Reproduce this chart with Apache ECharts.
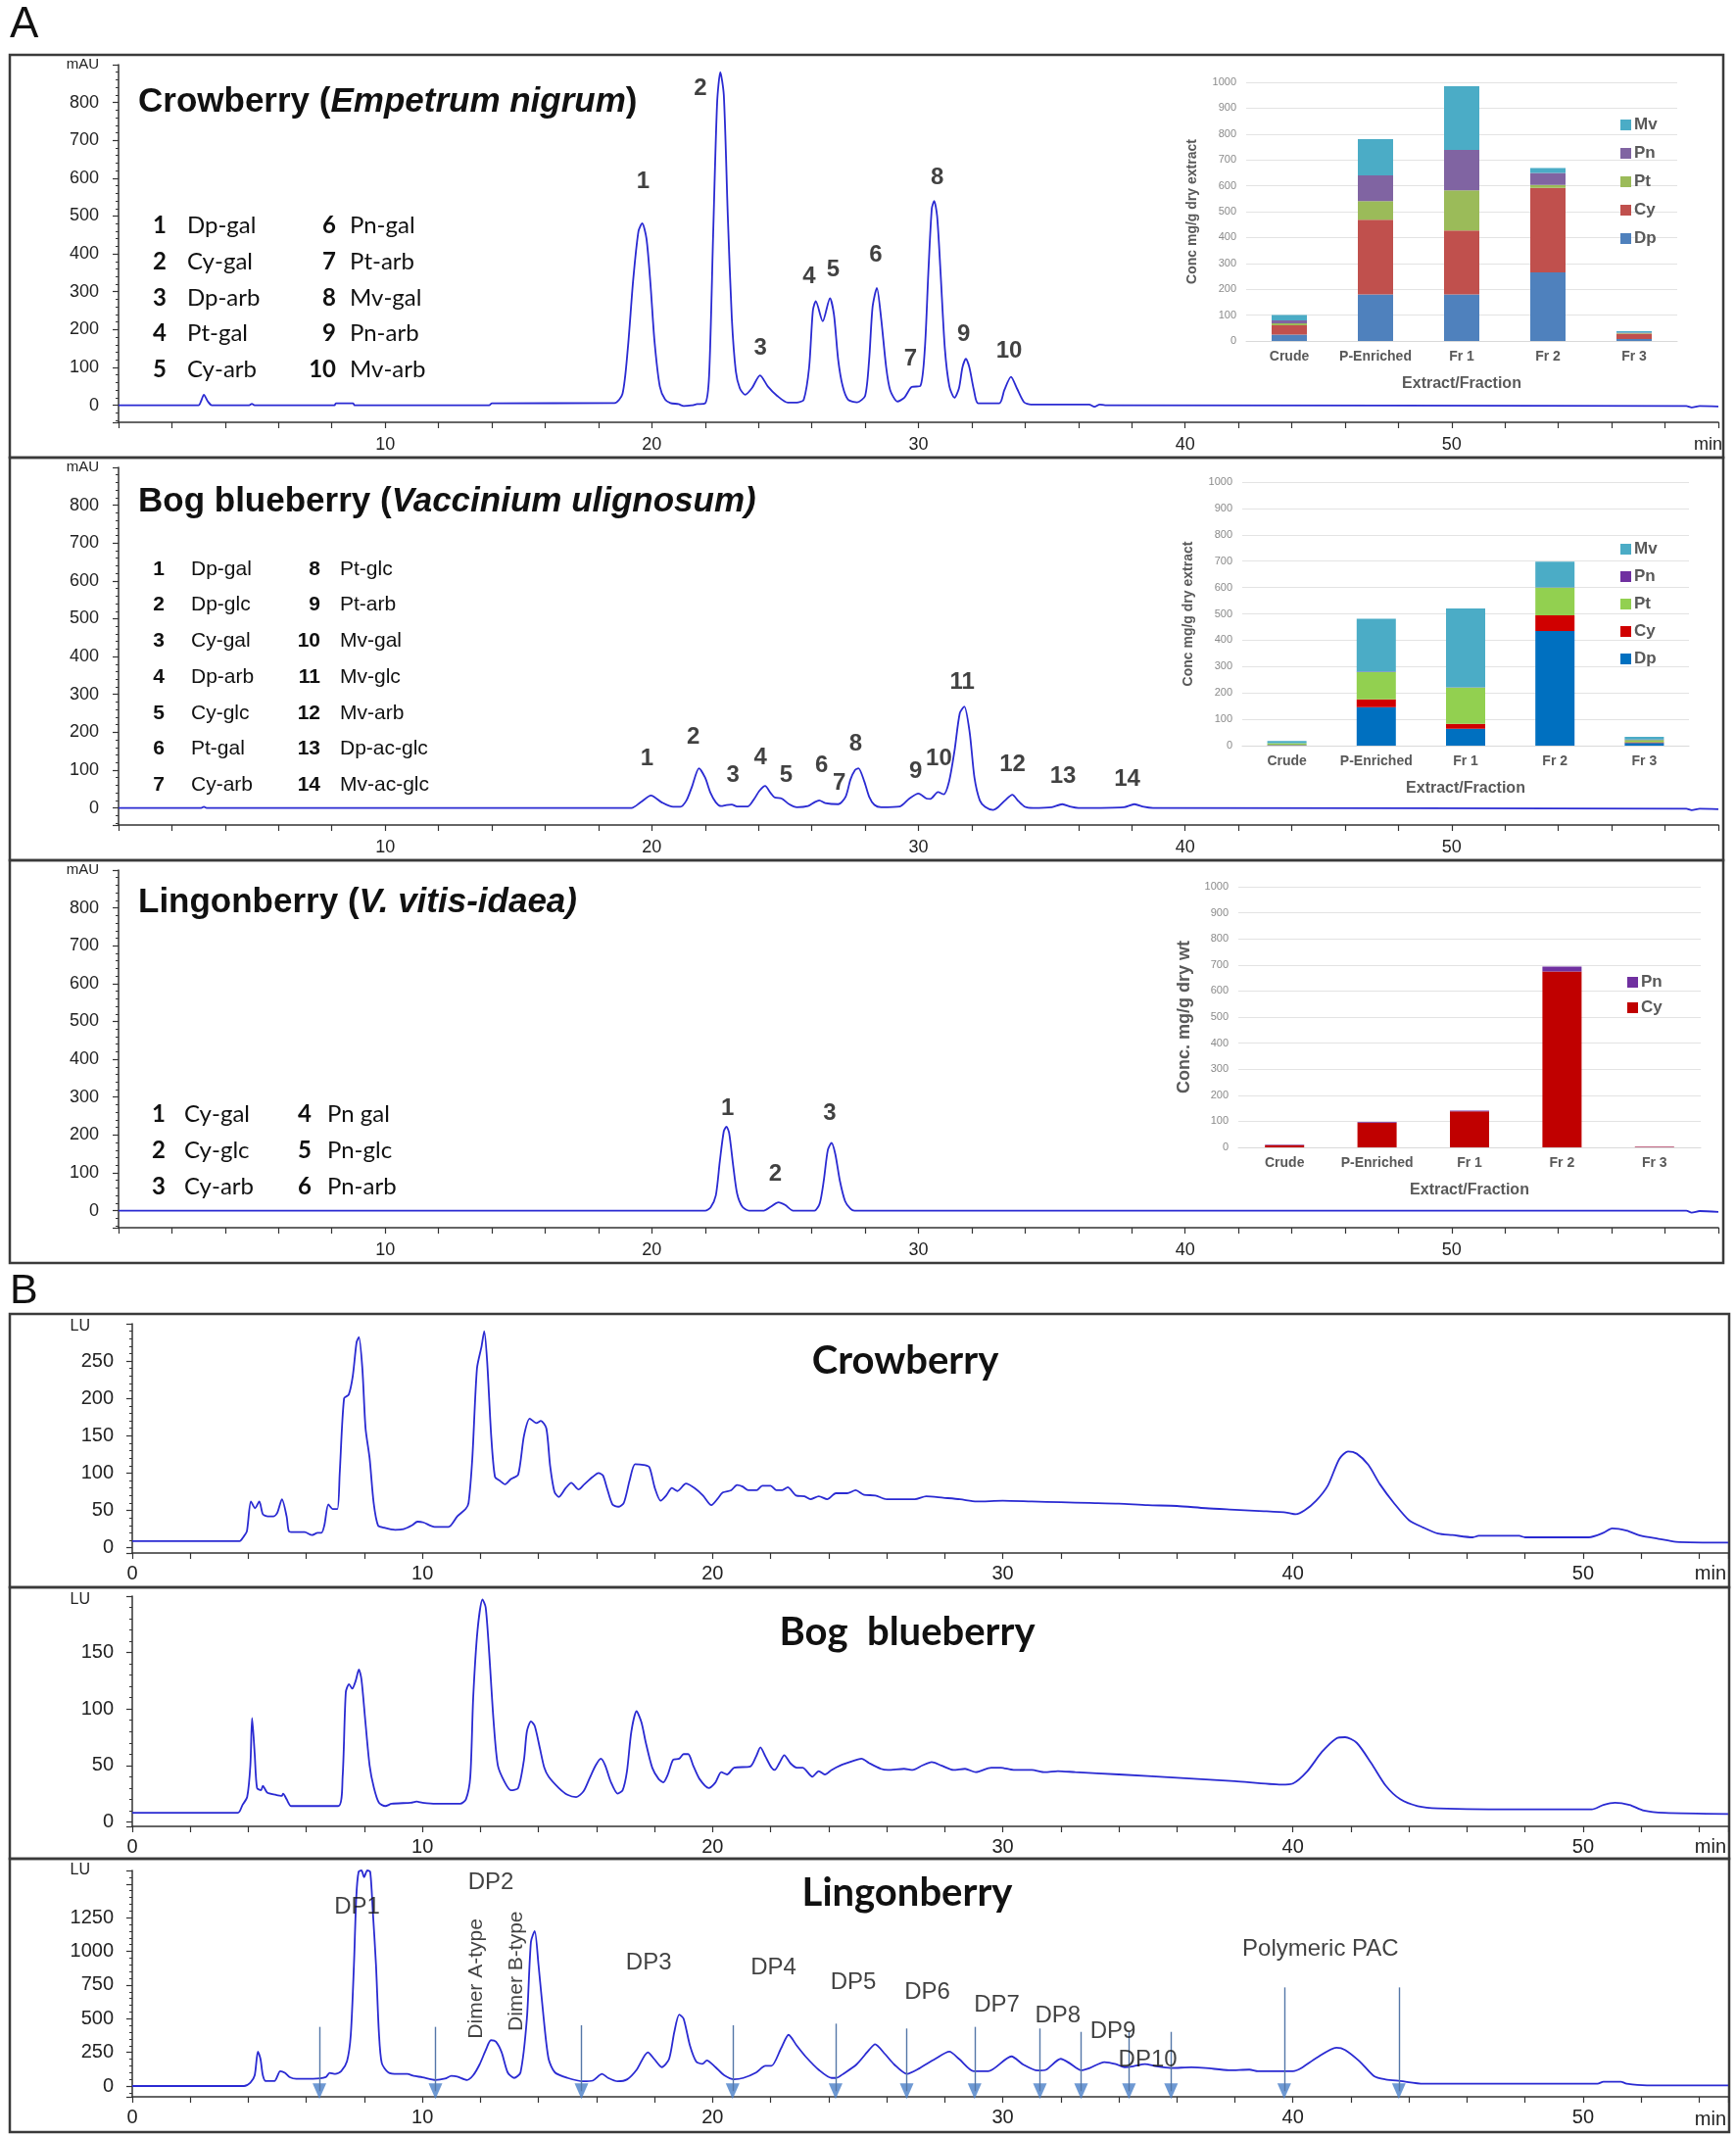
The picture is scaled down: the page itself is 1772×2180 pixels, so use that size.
<!DOCTYPE html>
<html><head><meta charset="utf-8">
<script src="https://cdn.jsdelivr.net/npm/echarts@6/dist/echarts.min.js"></script>
<style>html,body{margin:0;padding:0;background:#fff}#c{width:1772px;height:2180px}</style>
</head><body><div id="c"></div>
<script>
// ---------------- DATA ----------------
const hplcCrowberry = [[0,0],[3.0,0],[3.1,12],[3.2,28],[3.35,10],[3.5,0],[4.9,0],[5.0,4],[5.1,0],[8.1,0],[8.15,5],[8.8,5],[8.85,0],[13.9,0],[14.0,5],[18.6,6],[18.9,30],[19.1,150],[19.3,330],[19.5,460],[19.64,481],[19.8,440],[19.95,320],[20.1,170],[20.3,50],[20.5,15],[20.7,6],[21.0,3],[21.2,-2],[21.5,0],[21.7,3],[22.0,5],[22.15,80],[22.3,450],[22.45,800],[22.57,880],[22.7,820],[22.85,500],[23.0,230],[23.15,90],[23.3,45],[23.5,28],[23.75,45],[24.06,79],[24.35,50],[24.7,25],[25.1,7],[25.5,8],[25.7,15],[25.9,100],[26.04,250],[26.15,275],[26.41,222],[26.68,283],[26.83,240],[26.99,120],[27.16,50],[27.36,15],[27.7,8],[28.0,25],[28.15,120],[28.28,260],[28.44,310],[28.6,230],[28.79,100],[28.94,40],[29.21,10],[29.47,20],[29.74,48],[30.07,51],[30.24,150],[30.37,350],[30.5,520],[30.59,540],[30.7,500],[30.83,350],[30.99,150],[31.16,50],[31.35,20],[31.52,45],[31.65,100],[31.78,123],[31.91,100],[32.08,40],[32.24,5],[33.03,5],[33.22,40],[33.47,75],[33.69,45],[33.96,8],[34.22,2],[36.4,2],[36.6,-4],[36.8,2],[37.0,0],[58.8,-2],[59.0,-6],[59.3,-2],[60,-3]];
const hplcBog = [[0,0],[3.1,0],[3.2,3],[3.3,0],[19.24,0],[19.58,15],[19.97,33],[20.37,15],[20.8,3],[21.07,3],[21.3,20],[21.5,55],[21.77,105],[22.0,80],[22.2,40],[22.4,15],[22.6,5],[22.8,8],[23.0,9],[23.2,4],[23.6,4],[23.85,25],[24.03,45],[24.25,58],[24.45,40],[24.6,28],[24.87,25],[25.15,10],[25.44,2],[25.86,5],[26.1,15],[26.28,20],[26.5,13],[26.99,10],[27.27,30],[27.45,75],[27.62,100],[27.75,105],[27.97,70],[28.15,30],[28.35,8],[28.6,2],[29.3,4],[29.66,25],[30.0,38],[30.3,25],[30.45,24],[30.73,42],[30.95,36],[31.15,70],[31.35,150],[31.55,250],[31.72,268],[31.92,200],[32.1,80],[32.3,20],[32.5,3],[32.8,-5],[33.0,3],[33.25,20],[33.52,35],[33.75,18],[34.0,3],[34.3,0],[35.0,2],[35.39,10],[35.72,3],[36.0,0],[37.7,2],[38.1,10],[38.45,3],[38.8,0],[58.8,-2],[59.0,-6],[59.3,-2],[60,-3]];
const hplcLingon = [[0,0],[22.0,0],[22.2,8],[22.4,40],[22.55,130],[22.7,210],[22.8,222],[22.9,205],[23.05,120],[23.2,45],[23.4,10],[23.65,0],[24.2,0],[24.45,10],[24.75,22],[25.0,15],[25.3,0],[26.1,0],[26.3,20],[26.45,80],[26.6,160],[26.74,179],[26.88,150],[27.05,80],[27.25,25],[27.45,5],[27.6,0],[58.8,0],[59.0,-5],[59.3,-1],[60,-3]];
const fldCrowberry = [[0,9],[3.7,9],[3.84,15],[3.95,22],[4.09,62],[4.23,53],[4.38,62],[4.5,45],[4.67,42],[4.87,42],[5.0,47],[5.16,65],[5.32,42],[5.4,22],[5.55,21],[5.94,21],[6.19,17],[6.39,20],[6.52,20],[6.62,30],[6.76,58],[6.91,52],[7.07,52],[7.15,100],[7.3,200],[7.46,205],[7.6,230],[7.73,275],[7.81,282],[7.93,240],[8.04,160],[8.18,120],[8.32,60],[8.47,30],[8.67,27],[9.06,24],[9.35,25],[9.64,30],[9.83,35],[10.03,34],[10.42,28],[10.9,28],[11.2,42],[11.49,52],[11.59,60],[11.72,120],[11.88,240],[12.04,270],[12.13,290],[12.23,250],[12.37,150],[12.5,95],[12.66,90],[12.85,85],[13.05,92],[13.3,98],[13.5,150],[13.7,173],[13.93,167],[14.08,170],[14.27,160],[14.4,110],[14.55,75],[14.7,68],[14.94,80],[15.13,87],[15.38,78],[15.58,85],[15.87,95],[16.07,100],[16.22,97],[16.36,80],[16.55,58],[16.75,55],[16.94,60],[17.14,90],[17.33,112],[17.62,111],[17.82,108],[18.01,80],[18.21,63],[18.4,70],[18.6,80],[18.79,76],[19.08,86],[19.38,80],[19.67,70],[19.96,57],[20.16,65],[20.35,74],[20.64,77],[20.84,84],[21.03,82],[21.23,77],[21.52,77],[21.71,83],[22.0,83],[22.2,77],[22.4,77],[22.59,81],[22.88,70],[23.17,69],[23.37,65],[23.66,69],[23.95,65],[24.25,73],[24.64,73],[24.93,77],[25.22,71],[25.61,70],[26.0,65],[26.97,65],[27.36,69],[27.95,67],[28.53,65],[29.1,62],[30,63],[31,62],[32,61],[33,60],[34,59],[35,57],[36,56],[37,53],[38,51],[39,49],[39.8,47],[40.1,45],[40.4,50],[40.8,63],[41.2,83],[41.6,119],[41.9,129],[42.2,126],[42.6,111],[43.0,85],[43.5,59],[44.0,37],[44.5,27],[45.0,19],[45.5,17],[46.2,14],[46.4,16],[47.8,16],[48.0,14],[50.2,14],[50.7,20],[51.0,26],[51.5,23],[52.0,16],[52.6,12],[53.2,8],[55,7]];
const fldBog = [[0,8],[3.64,8],[3.8,15],[3.96,22],[4.07,50],[4.13,92],[4.22,60],[4.3,30],[4.44,28],[4.5,32],[4.65,26],[4.94,24],[5.15,23],[5.2,25],[5.32,20],[5.48,14],[7.1,14],[7.25,40],[7.36,115],[7.47,122],[7.58,118],[7.7,125],[7.81,135],[7.9,126],[8.03,90],[8.18,50],[8.33,30],[8.5,17],[8.72,14],[8.94,16],[9.6,17],[9.8,18],[10.0,17],[10.45,16],[11.3,16],[11.5,20],[11.65,40],[11.75,110],[11.9,170],[12.07,197],[12.18,190],[12.3,150],[12.45,90],[12.6,50],[12.84,35],[13.05,28],[13.3,30],[13.5,55],[13.6,80],[13.74,89],[13.87,85],[14.05,65],[14.2,48],[14.35,40],[14.7,30],[15.0,24],[15.3,22],[15.55,27],[15.75,38],[15.97,50],[16.15,56],[16.3,50],[16.5,35],[16.73,25],[16.9,28],[17.05,45],[17.2,80],[17.38,98],[17.55,88],[17.7,70],[17.92,48],[18.14,38],[18.3,35],[18.46,42],[18.64,55],[18.85,56],[19.0,60],[19.16,60],[19.33,50],[19.55,38],[19.87,30],[20.1,35],[20.3,44],[20.5,42],[20.74,48],[21.3,49],[21.5,58],[21.65,66],[21.82,58],[22.03,48],[22.14,46],[22.3,52],[22.47,59],[22.68,52],[22.9,48],[23.1,48],[23.44,40],[23.66,45],[23.87,42],[24.1,46],[24.4,50],[24.85,54],[25.13,56],[25.4,52],[25.8,47],[26.04,46],[26.6,47],[26.9,46],[27.23,50],[27.55,53],[27.88,50],[28.3,46],[28.7,47],[29.07,44],[29.6,48],[29.93,48],[30.37,46],[31.0,46],[31.45,44],[31.9,45],[32.5,44],[34,42],[36,39],[38,36],[39.6,33],[40.0,34],[40.5,45],[41.0,62],[41.5,74],[41.8,75],[42.2,70],[42.7,52],[43.2,32],[43.7,20],[44.3,14],[45,12],[48,11],[50.3,11],[50.7,15],[51.1,17],[51.6,15],[52.1,10],[52.8,8],[55,7]];
const fldLingon = [[0,0],[3.85,0],[4.07,25],[4.22,80],[4.33,256],[4.42,200],[4.5,80],[4.6,37],[4.9,37],[5.1,110],[5.26,98],[5.43,66],[5.65,54],[6.23,54],[6.67,66],[6.8,98],[7.0,90],[7.2,110],[7.4,183],[7.53,378],[7.64,900],[7.72,1400],[7.8,1590],[7.9,1600],[7.99,1550],[8.1,1600],[8.2,1590],[8.29,1300],[8.4,900],[8.5,400],[8.6,170],[8.83,100],[9.16,90],[9.48,90],[9.7,75],[10.0,65],[10.45,45],[10.78,55],[11.0,75],[11.2,70],[11.54,45],[11.75,80],[11.97,160],[12.19,270],[12.36,340],[12.53,330],[12.73,250],[12.94,100],[13.16,60],[13.38,100],[13.6,500],[13.74,1070],[13.87,1150],[14.0,900],[14.18,500],[14.35,200],[14.57,100],[15.0,60],[15.54,35],[15.87,40],[16.19,90],[16.4,60],[16.73,35],[17.06,50],[17.38,120],[17.77,250],[17.99,200],[18.25,140],[18.5,200],[18.68,400],[18.85,530],[19.0,500],[19.22,300],[19.44,180],[19.65,165],[19.8,190],[20.1,140],[20.4,80],[20.74,50],[21.06,60],[21.5,100],[21.82,150],[22.03,150],[22.36,280],[22.62,380],[22.9,300],[23.2,220],[23.66,120],[24.1,60],[24.26,60],[24.5,90],[24.96,160],[25.4,270],[25.6,310],[25.93,240],[26.26,160],[26.7,90],[27.12,130],[27.66,200],[28.16,255],[28.5,200],[29.0,110],[29.5,110],[30.3,220],[30.7,160],[31.2,115],[31.5,122],[32.0,202],[32.3,170],[32.7,117],[33.0,134],[33.5,178],[33.9,163],[34.2,139],[34.5,146],[34.9,163],[35.3,146],[35.8,134],[36.5,139],[37.0,134],[37.8,117],[38.5,122],[38.8,110],[40.0,110],[40.3,134],[40.8,207],[41.5,285],[41.8,268],[42.3,183],[42.8,73],[43.2,49],[43.7,37],[44.5,17],[46,17],[50.5,17],[50.7,32],[51.3,32],[51.5,17],[52.2,5],[55,5]];

const peaksCrowberry = [[19.67,591,'1'],[21.82,836,'2'],[24.07,151,'3'],[25.9,339,'4'],[26.8,357,'5'],[28.4,396,'6'],[29.7,122,'7'],[30.7,602,'8'],[31.7,188,'9'],[33.4,144,'10']];
const peaksBog = [[19.82,130,'1'],[21.56,187,'2'],[23.04,86,'3'],[24.07,133,'4'],[25.04,86,'5'],[26.37,112,'6'],[27.03,65,'7'],[27.65,169,'8'],[29.9,97,'9'],[30.77,130,'10'],[31.64,331,'11'],[33.53,115,'12'],[35.42,83,'13'],[37.83,76,'14']];
const peaksLingon = [[22.84,270,'1'],[24.63,97,'2'],[26.67,256,'3']];

const compoundsCrowberry = ['Dp-gal','Cy-gal','Dp-arb','Pt-gal','Cy-arb','Pn-gal','Pt-arb','Mv-gal','Pn-arb','Mv-arb'];
const compoundsBog = ['Dp-gal','Dp-glc','Cy-gal','Dp-arb','Cy-glc','Pt-gal','Cy-arb','Pt-glc','Pt-arb','Mv-gal','Mv-glc','Mv-arb','Dp-ac-glc','Mv-ac-glc'];
const compoundsLingon = ['Cy-gal','Cy-glc','Cy-arb','Pn gal','Pn-glc','Pn-arb'];

const dpLabels = [['DP1',7.75,1330],['DP2',12.36,1512],['DP3',17.8,915],['DP4',22.1,878],['DP5',24.85,768],['DP6',27.4,695],['DP7',29.8,598],['DP8',31.9,524],['DP9',33.8,407],['DP10',35.0,195],['Polymeric PAC',40.95,1017]];
const dimerLabels = [['Dimer A-type',11.86,797],['Dimer B-type',13.23,853]];
const arrowTimes = [6.45,10.45,15.48,20.69,24.24,26.69,29.03,31.28,32.7,34.35,35.8,39.7,43.65];
const arrowTops = [439,439,451,451,463,427,439,427,402,400,402,732,732];
const arrowHeadLevel = -38;

const fractions = ['Crude','P-Enriched','Fr 1','Fr 2','Fr 3'];
const anthocyanidins = ['Dp','Cy','Pt','Pn','Mv'];
const cbDp = [25,180,180,265,8];
const cbCy = [36,289,247,327,20];
const cbPt = [7,72,155,11,2];
const cbPn = [12,99,157,47,2];
const cbMv = [20,140,246,19,6];
const bbDp = [2,146,64,435,10];
const bbCy = [1,30,19,59,3];
const bbPt = [6,103,137,105,8];
const bbPn = [0,2,1,1,2];
const bbMv = [9,200,299,98,10];
const lbCy = [8,95,138,675,2];
const lbPn = [2,3,3,19,1];

const timeTicks = [10,20,30,40,50];

// ---------------- LAYOUT / STYLE ----------------
const BLUE = '#2a2ad2';
const AX = '#333';
const F = 'Liberation Sans';
const chromGrids = [
  {left:121, top:66, width:1633, height:365},
  {left:121, top:477, width:1633, height:365},
  {left:121, top:888, width:1633, height:365},
  {left:135, top:1351, width:1629, height:234},
  {left:135, top:1629, width:1629, height:235},
  {left:135, top:1909, width:1629, height:231}
];
const insetGrids = [
  {left:1272, top:84, width:440, height:264},
  {left:1268, top:492, width:456, height:269},
  {left:1264, top:905, width:472, height:266}
];
// [min, max, tick interval, highest labelled tick]
const yRanges = [[-45,900,100,800],[-45,900,100,800],[-45,900,100,800],[-7,300,50,250],[-4,200,50,150],[-80,1600,250,1250]];
const unitLabels = [['mAU',101,66,15],['mAU',101,477,15],['mAU',101,888,15],['LU',92,1354,16],['LU',92,1633,16],['LU',92,1909,16]];

const grids = chromGrids.concat(insetGrids).map(g => Object.assign({containLabel:false}, g));
const xAxes = [], yAxes = [];
chromGrids.forEach((g,i) => {
  const isA = i < 3;
  const xmax = isA ? 60 : 55;
  xAxes.push({
    gridIndex:i, type:'value', min:0, max:xmax, interval:2,
    axisLine:{show:true,onZero:false,lineStyle:{color:AX,width:1.5}},
    axisTick:{show:true,length:6,lineStyle:{color:AX,width:1.2}},
    splitLine:{show:false},
    axisLabel:{fontFamily:F,fontSize:isA?18:20,color:'#222',margin:isA?14:11,
      formatter:v => (timeTicks.indexOf(v)>=0 || (!isA && v===0)) ? String(v) : ''}
  });
  const r = yRanges[i];
  yAxes.push({
    gridIndex:i, type:'value', min:r[0], max:r[1], minInterval:r[2], maxInterval:r[2],
    axisLine:{show:true,onZero:false,lineStyle:{color:AX,width:1.5}},
    axisTick:{show:true,length:6,lineStyle:{color:AX,width:1.2}},
    minorTick:{show:true,splitNumber:5,length:3,lineStyle:{color:AX,width:1}},
    splitLine:{show:false},
    axisLabel:{fontFamily:F,fontSize:isA?18:20,color:'#222',margin:isA?20:19,
      formatter:v => (v>=0 && v<=r[3] && v%r[2]===0) ? String(v) : ''}
  });
});
const insetYNames = ['Conc mg/g dry extract','Conc mg/g dry extract','Conc. mg/g dry wt'];
insetGrids.forEach((g,k) => {
  const i = 6 + k;
  xAxes.push({gridIndex:i, type:'category', data:fractions,
    axisLine:{show:true,lineStyle:{color:'#d9d9d9'}}, axisTick:{show:false},
    axisLabel:{interval:0,fontFamily:F,fontSize:14,fontWeight:'bold',color:'#595959',margin:9},
    name:'Extract/Fraction', nameLocation:'middle', nameGap:36,
    nameTextStyle:{fontFamily:F,fontSize:16,fontWeight:'bold',color:'#595959'}});
  yAxes.push({gridIndex:i, type:'value', min:0, max:1000, interval:100,
    axisLine:{show:false}, axisTick:{show:false},
    splitLine:{show:true,lineStyle:{color:'#e3e3e3',width:1}},
    axisLabel:{fontFamily:F,fontSize:11,color:'#8a8a8a',margin:10,formatter:v=>String(v)},
    name:insetYNames[k], nameLocation:'middle', nameGap:k===2?46:48,
    nameTextStyle:{fontFamily:F,fontSize:k===2?18:14,fontWeight:'bold',color:'#595959'}});
});

const series = [];
[hplcCrowberry,hplcBog,hplcLingon,fldCrowberry,fldBog,fldLingon].forEach((d,i) => {
  const s = {type:'line', xAxisIndex:i, yAxisIndex:i, data:d, symbol:'none', showSymbol:false,
    smooth:0.25, lineStyle:{color:BLUE,width:1.8}, silent:true, z:3};
  if (i === 5) {
    s.markLine = {silent:true, symbol:['none','none'],
      lineStyle:{color:'#5577a8',width:1.4,type:'solid'}, label:{show:false},
      data: arrowTimes.map((t,j) => [{coord:[t,arrowTops[j]]},{coord:[t,arrowHeadLevel]}])};
  }
  series.push(s);
});
// arrow heads
series.push({type:'scatter', xAxisIndex:5, yAxisIndex:5, data:arrowTimes.map(t=>[t,arrowHeadLevel]),
  symbol:'triangle', symbolRotate:180, symbolSize:[14,16],
  itemStyle:{color:'#4a80c8'}, silent:true, z:4, clip:false});
[peaksCrowberry,peaksBog,peaksLingon].forEach((d,i) => {
  series.push({type:'scatter', xAxisIndex:i, yAxisIndex:i, data:d, symbolSize:1,
    itemStyle:{color:'rgba(0,0,0,0)'}, silent:true, z:5,
    label:{show:true, position:'inside', formatter:p=>p.value[2],
      fontFamily:F, fontSize:24, fontWeight:'bold', color:'#111'}});
});
series.push({type:'scatter', xAxisIndex:5, yAxisIndex:5, data:dpLabels.map(d=>[d[1],d[2],d[0]]), symbolSize:1,
  itemStyle:{color:'rgba(0,0,0,0)'}, silent:true, z:5,
  label:{show:true, position:'inside', formatter:p=>p.value[2], fontFamily:F, fontSize:24, color:'#111'}});
series.push({type:'scatter', xAxisIndex:5, yAxisIndex:5, data:dimerLabels.map(d=>[d[1],d[2],d[0]]), symbolSize:1,
  itemStyle:{color:'rgba(0,0,0,0)'}, silent:true, z:5,
  label:{show:true, position:'inside', rotate:90, formatter:p=>p.value[2], fontFamily:F, fontSize:21, color:'#111'}});

const insetSets = [
  {pre:'cb', axis:6, vals:[cbDp,cbCy,cbPt,cbPn,cbMv], colors:['#4F81BD','#C0504D','#9BBB59','#8064A2','#4BACC6'], names:anthocyanidins, bw:36},
  {pre:'bb', axis:7, vals:[bbDp,bbCy,bbPt,bbPn,bbMv], colors:['#0070C0','#D00000','#92D050','#7030A0','#4BACC6'], names:anthocyanidins, bw:40},
  {pre:'lb', axis:8, vals:[lbCy,lbPn], colors:['#C00000','#7030A0'], names:['Cy','Pn'], bw:40}
];
insetSets.forEach(s => {
  s.vals.forEach((v,j) => {
    series.push({type:'bar', name:s.pre+'-'+s.names[j], xAxisIndex:s.axis, yAxisIndex:s.axis, stack:s.pre,
      data:v, barWidth:s.bw, itemStyle:{color:s.colors[j]}, silent:true});
  });
});
const legends = [
  {data:['cb-Mv','cb-Pn','cb-Pt','cb-Cy','cb-Dp'], left:1649, top:114, itemGap:12},
  {data:['bb-Mv','bb-Pn','bb-Pt','bb-Cy','bb-Dp'], left:1649, top:547, itemGap:11},
  {data:['lb-Pn','lb-Cy'], left:1656, top:989, itemGap:9}
].map(l => Object.assign({orient:'vertical', icon:'rect', itemWidth:11, itemHeight:11, selectedMode:false,
  formatter:n=>n.slice(3), textStyle:{fontFamily:F,fontSize:17,fontWeight:'bold',color:'#595959',lineHeight:17,padding:[0,0,0,-2]}}, l));

// ---------------- GRAPHIC TEXT ----------------
const g = [];
[[10,56,1749,411],[10,467,1749,411],[10,878,1749,411],[10,1341,1755,279],[10,1620,1755,277],[10,1897,1755,279]].forEach(r =>
  g.push({type:'rect', silent:true, shape:{x:r[0],y:r[1],width:r[2],height:r[3]}, style:{fill:'none',stroke:'#3a3a3a',lineWidth:2.5}}));
g.push({type:'text', x:10, y:26, silent:true, style:{text:'A', fontFamily:F, fontSize:44, fill:'#111', verticalAlign:'middle'}});
g.push({type:'text', x:10, y:1318, silent:true, style:{text:'B', fontFamily:F, fontSize:43, fill:'#111', verticalAlign:'middle'}});
unitLabels.forEach(u => g.push({type:'text', x:u[1], y:u[2], silent:true,
  style:{text:u[0], fontFamily:F, fontSize:u[3], fill:'#222', align:'right', verticalAlign:'middle'}}));
function title(x,y,text){
  g.push({type:'text', x:x, y:y, silent:true, style:{text:text, verticalAlign:'middle',
    rich:{n:{fontFamily:F,fontSize:35,fontWeight:'bold',fill:'#111',color:'#111'},
          i:{fontFamily:F,fontSize:35,fontWeight:'bold',fontStyle:'italic',fill:'#111',color:'#111'}}}});
}
title(141,104,'{n|Crowberry (}{i|Empetrum nigrum}{n|)}');
title(141,512,'{n|Bog blueberry (}{i|Vaccinium ulignosum)}');
title(141,921,'{n|Lingonberry (}{i|V. vitis-idaea)}');
function list(items, perCol, y0, dy, c1n, c1t, c2n, c2t, font, size){
  items.forEach((t,k) => {
    const col = Math.floor(k/perCol), row = k%perCol;
    const y = y0 + row*dy;
    const nx = col===0 ? c1n : c2n, tx = col===0 ? c1t : c2t;
    g.push({type:'text', x:nx, y:y, silent:true, style:{text:String(k+1), fontFamily:font, fontSize:size, fontWeight:'bold', fill:'#111', align:col===0?'center':'right', verticalAlign:'middle'}});
    g.push({type:'text', x:tx, y:y, silent:true, style:{text:t, fontFamily:font, fontSize:size, fill:'#111', align:'left', verticalAlign:'middle'}});
  });
}
list(compoundsCrowberry,5,230,36.9,163,191,343,357,'Lato',24);
list(compoundsBog,7,581,36.7,162,195,327,347,F,21);
list(compoundsLingon,3,1137,37,162,188,318,334,'Lato',24);
[[1758,454],[1762,1606],[1762,1885],[1762,2163]].forEach(p =>
  g.push({type:'text', x:p[0], y:p[1], silent:true, style:{text:'min', fontFamily:F, fontSize:p[1]<500?18:20, fill:'#222', align:'right', verticalAlign:'middle'}}));
[['Crowberry',924,1389],['Bog  blueberry',926,1666],['Lingonberry',926,1932]].forEach(t =>
  g.push({type:'text', x:t[1], y:t[2], silent:true, style:{text:t[0], fontFamily:'Lato', fontSize:40, fontWeight:'bold', fill:'#111', align:'center', verticalAlign:'middle'}}));

const chart = echarts.init(document.getElementById('c'), null, {renderer:'canvas'});
chart.setOption({
  animation:false, backgroundColor:'#fff',
  grid:grids, xAxis:xAxes, yAxis:yAxes, series:series, legend:legends, graphic:g
});
</script></body></html>
